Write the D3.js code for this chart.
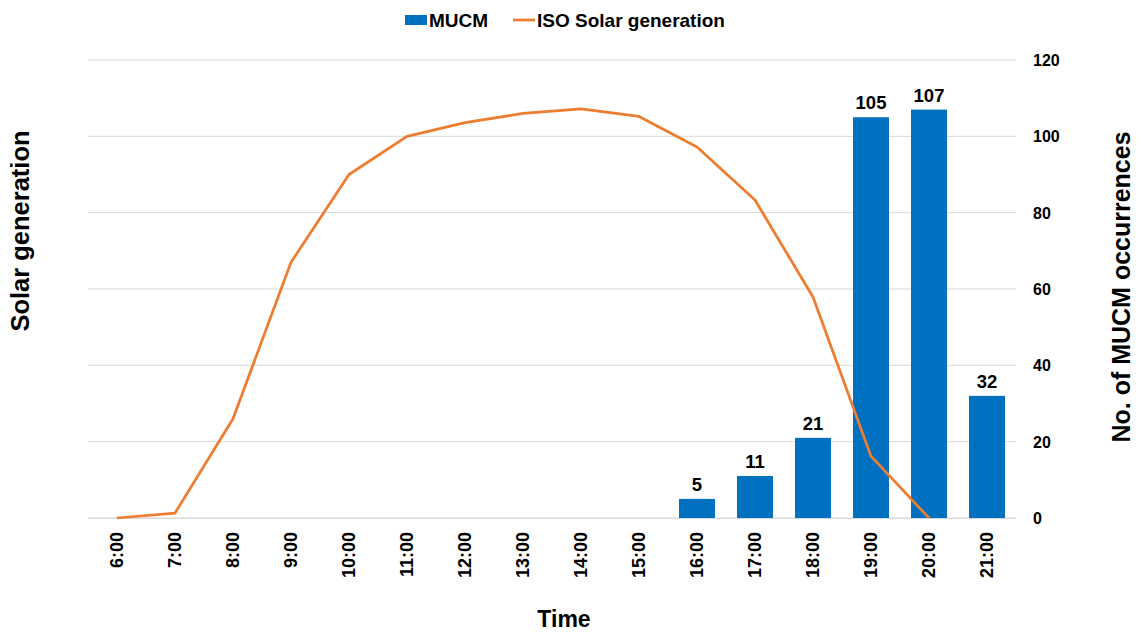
<!DOCTYPE html>
<html>
<head>
<meta charset="utf-8">
<script src="https://cdn.jsdelivr.net/npm/d3@7"></script>
<style>
  body { margin: 0; background: #fff; }
  svg text { font-family: "Liberation Sans", Arial, sans-serif; font-weight: bold; fill: #000; }
</style>
</head>
<body>
<svg id="chart" width="1143" height="632"></svg>
<script>
const hours = ["6:00", "7:00", "8:00", "9:00", "10:00", "11:00", "12:00", "13:00",
  "14:00", "15:00", "16:00", "17:00", "18:00", "19:00", "20:00", "21:00"];
const mucm = [null, null, null, null, null, null, null, null, null, null, 5, 11, 21, 105, 107, 32];
const solar = [0, 1.3, 26, 67, 90, 100, 103.6, 106, 107.2, 105.2, 97.2, 83.3, 57.9, 16.2, 0, null];
const rightTicks = [0, 20, 40, 60, 80, 100, 120];

const svg = d3.select("#chart");
const margin = { left: 88, right: 127, top: 60, bottom: 114 };
const width = 1143, height = 632;

const x = d3.scaleBand()
  .domain(hours)
  .range([margin.left, width - margin.right])
  .paddingInner(0.38)
  .paddingOuter(0.19);
const yRight = d3.scaleLinear().domain([0, 120]).range([height - margin.bottom, margin.top]);
// left axis (solar generation) has no tick labels; same span as the right one
const yLeft = d3.scaleLinear().domain([0, 120]).range([height - margin.bottom, margin.top]);

// grid lines
svg.append("g")
  .selectAll("line")
  .data(rightTicks)
  .join("line")
  .attr("x1", margin.left)
  .attr("x2", width - margin.right)
  .attr("y1", (d) => yRight(d))
  .attr("y2", (d) => yRight(d))
  .attr("stroke", "#d9d9d9")
  .attr("stroke-width", 1);

// right axis
const rightAxis = svg.append("g")
  .attr("transform", `translate(${width - margin.right + 17},0)`)
  .call(d3.axisRight(yRight).tickValues(rightTicks).tickSize(0).tickPadding(0));
rightAxis.select(".domain").remove();
rightAxis.selectAll("text").style("font-size", "16px").attr("dy", "0.35em");

// bottom axis
const bottomAxis = svg.append("g")
  .attr("transform", `translate(0,${height - margin.bottom})`)
  .call(d3.axisBottom(x).tickSize(0));
bottomAxis.select(".domain").attr("stroke", "#d9d9d9");
bottomAxis.selectAll("text")
  .style("font-size", "18px")
  .attr("transform", "rotate(-90)")
  .attr("text-anchor", "end")
  .attr("x", -14)
  .attr("y", 0)
  .attr("dy", "0.35em");

// bars
const barData = hours.map((h, i) => ({ h, v: mucm[i] })).filter((d) => d.v != null);
svg.append("g")
  .selectAll("rect")
  .data(barData)
  .join("rect")
  .attr("x", (d) => x(d.h))
  .attr("width", x.bandwidth())
  .attr("y", (d) => yRight(d.v))
  .attr("height", (d) => yRight(0) - yRight(d.v))
  .attr("fill", "#0070c0");

svg.append("g")
  .selectAll("text")
  .data(barData)
  .join("text")
  .attr("x", (d) => x(d.h) + x.bandwidth() / 2)
  .attr("y", (d) => yRight(d.v) - 8)
  .attr("text-anchor", "middle")
  .style("font-size", "18.5px")
  .text((d) => d.v);

// solar line
const lineData = hours.map((h, i) => ({ h, v: solar[i] })).filter((d) => d.v != null);
svg.append("path")
  .datum(lineData)
  .attr("fill", "none")
  .attr("stroke", "#ed7d31")
  .attr("stroke-width", 2.75)
  .attr("stroke-linejoin", "round")
  .attr("d", d3.line()
    .x((d) => x(d.h) + x.bandwidth() / 2)
    .y((d) => yLeft(d.v)));

// axis titles
svg.append("text")
  .attr("transform", "translate(29,231) rotate(-90)")
  .attr("text-anchor", "middle")
  .style("font-size", "25.5px")
  .text("Solar generation");

svg.append("text")
  .attr("transform", "translate(1130,287) rotate(-90)")
  .attr("text-anchor", "middle")
  .style("font-size", "25px")
  .text("No. of MUCM occurrences");

svg.append("text")
  .attr("x", 564)
  .attr("y", 627)
  .attr("text-anchor", "middle")
  .style("font-size", "23px")
  .text("Time");

// legend
const legend = svg.append("g");
legend.append("rect").attr("x", 405).attr("y", 15).attr("width", 22).attr("height", 10).attr("fill", "#0070c0");
legend.append("text").attr("x", 429).attr("y", 27).style("font-size", "19px").text("MUCM");
legend.append("line").attr("x1", 513).attr("x2", 535).attr("y1", 20).attr("y2", 20)
  .attr("stroke", "#ed7d31").attr("stroke-width", 2.75);
legend.append("text").attr("x", 537).attr("y", 27).style("font-size", "19px").text("ISO Solar generation");
</script>
</body>
</html>
